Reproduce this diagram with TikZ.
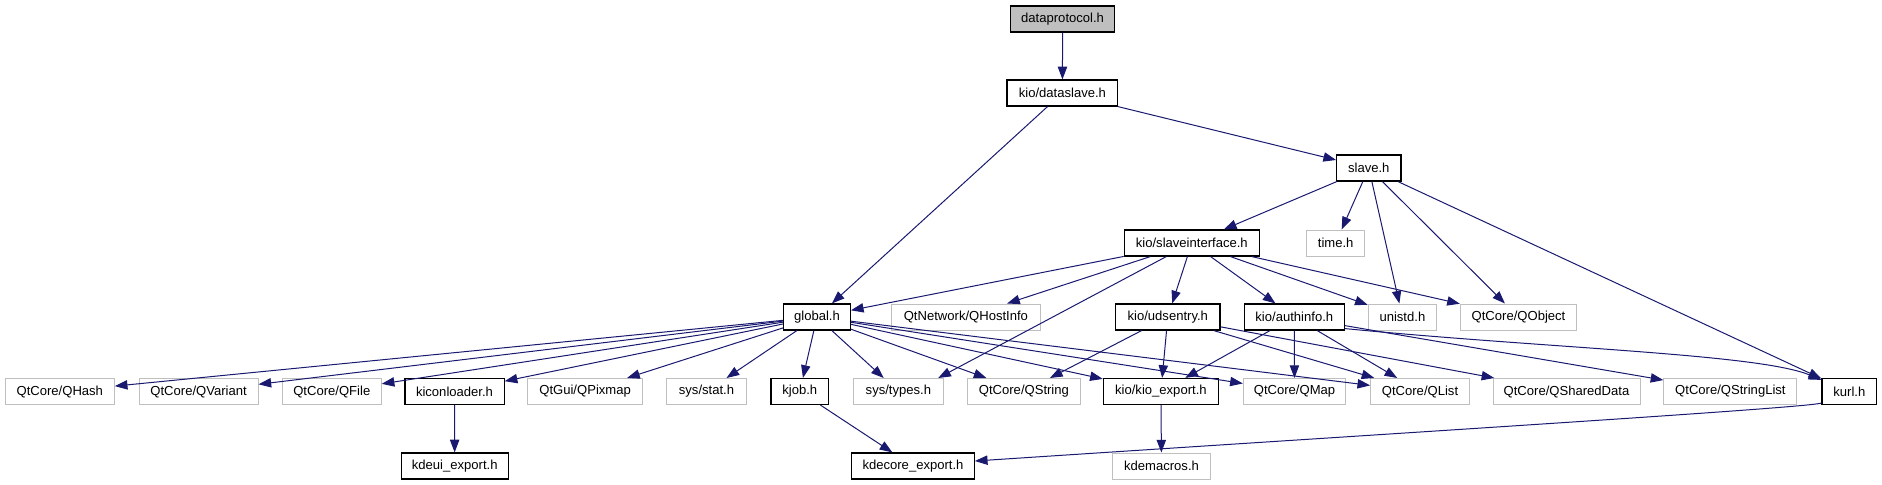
\documentclass[tikz,border=0pt]{standalone}
\usepackage{fontspec}
\setmainfont{Liberation Sans}
\usetikzlibrary{arrows.meta,calc}
\definecolor{edgeblue}{HTML}{191970}
\definecolor{gray75}{HTML}{BFBFBF}
\tikzset{
  box/.style={draw, rectangle, inner sep=0pt, minimum height=19.5pt, fill=white, text=black,
              font=\fontsize{9.8}{12}\selectfont},
  doc/.style={box, draw=black, line width=0.9pt},
  ext/.style={box, draw=gray75, line width=0.75pt},
  root/.style={doc, fill=gray75},
  e/.style={draw=edgeblue, line width=0.75pt, -{Triangle[length=9.5pt,width=7pt]}}
}
\begin{document}
\begin{tikzpicture}[x=0.75pt,y=-0.75pt]
\useasboundingbox (0,0) rectangle (1882,485);
% row 0
\node[root, minimum width=78pt] (dataprotocol) at (1062.6,19) {dataprotocol.h};
% row 1
\node[doc, minimum width=83.1pt] (dataslave) at (1062.4,93) {kio/dataslave.h};
% row 2
\node[doc, minimum width=48.2pt] (slave) at (1368.8,168) {slave.h};
% row 3
\node[doc, minimum width=101.25pt] (slaveif) at (1191.8,243) {kio/slaveinterface.h};
\node[ext, minimum width=43.9pt] (time) at (1335.7,243) {time.h};
% row 4
\node[doc, minimum width=50pt] (global) at (817,317) {global.h};
\node[ext, minimum width=111.75pt] (qhostinfo) at (965.9,317) {QtNetwork/QHostInfo};
\node[doc, minimum width=78.4pt] (udsentry) at (1167.8,317) {kio/udsentry.h};
\node[doc, minimum width=75.2pt] (authinfo) at (1294.3,317) {kio/authinfo.h};
\node[ext, minimum width=51.3pt] (unistd) at (1402.4,317) {unistd.h};
\node[ext, minimum width=87.2pt] (qobject) at (1518.5,317) {QtCore/QObject};
% row 5
\node[ext, minimum width=81.75pt] (qhash) at (59.8,391.5) {QtCore/QHash};
\node[ext, minimum width=89.1pt] (qvariant) at (198.6,391.5) {QtCore/QVariant};
\node[ext, minimum width=74.1pt] (qfile) at (331.8,391.5) {QtCore/QFile};
\node[doc, minimum width=74.4pt] (kiconloader) at (454.5,391.5) {kiconloader.h};
\node[ext, minimum width=86pt] (qpixmap) at (585.1,391.5) {QtGui/QPixmap};
\node[ext, minimum width=60pt] (sysstat) at (706.5,391.5) {sys/stat.h};
\node[doc, minimum width=43.2pt] (kjob) at (799.8,391.5) {kjob.h};
\node[ext, minimum width=68pt] (systypes) at (898.4,391.5) {sys/types.h};
\node[ext, minimum width=84.2pt] (qstring) at (1023.9,391.5) {QtCore/QString};
\node[doc, minimum width=86.3pt] (kioexport) at (1160.9,391.5) {kio/kio\_export.h};
\node[ext, minimum width=76.8pt] (qmap) at (1294.5,391.5) {QtCore/QMap};
\node[ext, minimum width=74pt] (qlist) at (1420,391.5) {QtCore/QList};
\node[ext, minimum width=110.25pt] (qshareddata) at (1566.5,391.5) {QtCore/QSharedData};
\node[ext, minimum width=99.8pt] (qstringlist) at (1730.4,391.5) {QtCore/QStringList};
\node[doc, minimum width=41.2pt] (kurl) at (1849.4,391.5) {kurl.h};
% row 6
\node[doc, minimum width=80.25pt] (kdeui) at (454.7,466) {kdeui\_export.h};
\node[doc, minimum width=91.9pt] (kdecore) at (913,466) {kdecore\_export.h};
\node[ext, minimum width=73.1pt] (kdemacros) at (1161.5,466) {kdemacros.h};

% edges
\draw[e] (dataprotocol) -- (dataslave);
\draw[e] (dataslave) -- (global);
\draw[e] (dataslave) -- (slave);
\draw[e] (slave) -- (slaveif);
\draw[e] (slave) -- (time);
\draw[e] (slave) -- (unistd);
\draw[e] (slave) -- (qobject);
\draw[e] (slave) -- (kurl);
\draw[e] (slaveif) -- (global);
\draw[e] (slaveif) -- (qhostinfo);
\draw[e] (slaveif) -- ($(systypes.north east)+(-6,0)$);
\draw[e] (slaveif) -- (udsentry);
\draw[e] (slaveif) -- (authinfo);
\draw[e] (slaveif) -- (unistd);
\draw[e] (slaveif) -- (qobject);
\draw[e] (global) -- (qhash);
\draw[e] (global) -- (qvariant);
\draw[e] (global) -- (qfile);
\draw[e] (global) -- (kiconloader);
\draw[e] (global) -- (qpixmap);
\draw[e] (global) -- (sysstat);
\draw[e] (global) -- (kjob);
\draw[e] (global) -- (systypes);
\draw[e] (global) -- (qstring);
\draw[e] (global) -- (kioexport);
\draw[e] (global) -- (qmap);
\draw[e] (global) -- (qlist);
\draw[e] (udsentry) -- (qstring);
\draw[e] (udsentry) -- (kioexport);
\draw[e] (udsentry) -- (qlist);
\draw[e] (udsentry) -- (qshareddata);
\draw[e] (authinfo) -- (kioexport);
\draw[e] (authinfo) -- (qmap);
\draw[e] (authinfo) -- (qlist);
\draw[e] (authinfo) -- (qstringlist);
\draw[e] ($(authinfo.south east)+(0,-2)$) .. controls +(206,20) and +(-62,-26) .. ($(kurl.north west)+(0,2)$);
\draw[e] (kiconloader) -- (kdeui);
\draw[e] (kjob) -- (kdecore);
\draw[e] (kioexport) -- (kdemacros);
\draw[e] ($(kurl.south west)+(0,-2)$) .. controls +(-17,5) and +(425,-28) .. ($(kdecore.east)+(0,-5)$);
\end{tikzpicture}
\end{document}
